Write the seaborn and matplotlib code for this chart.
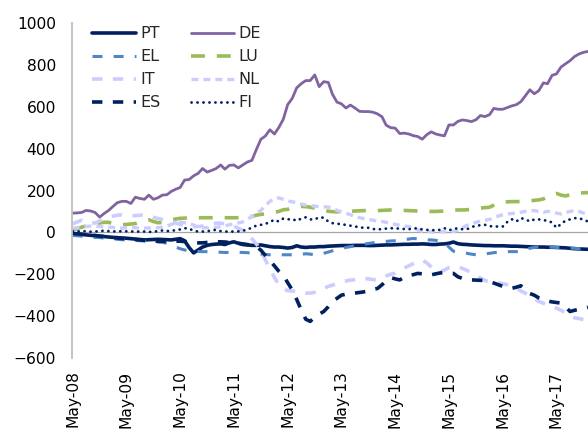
import matplotlib
matplotlib.use("Agg")
import matplotlib.pyplot as plt
import pandas as pd
import seaborn as sns

# Monthly TARGET2 balances (EUR bn), May-08 .. Dec-17
months = pd.date_range("2008-05-01", periods=116, freq="MS")

PT = [-5, -8, -10, -12, -14, -16, -18, -20, -22, -24, -25, -27,
      -28, -30, -32, -34, -36, -35, -34, -33, -34, -35, -36, -33,
      -30, -40, -72, -98, -84, -70, -62, -58, -56, -55, -58, -50,
      -45, -52, -58, -60, -62, -62, -60, -64, -68, -70, -70, -72,
      -75, -72, -64, -70, -72, -70, -70, -68, -68, -66, -65, -64,
      -63, -63, -63, -62, -62, -62, -63, -63, -62, -61, -60, -60,
      -59, -58, -57, -57, -56, -56, -55, -56, -58, -58, -56, -55,
      -52, -46, -54, -57, -58, -60, -61, -62, -63, -63, -64, -64,
      -64, -65, -66, -66, -67, -68, -69, -70, -70, -70, -71, -71,
      -72, -73, -74, -76, -78, -79, -80, -81]

DE = [92, 93, 95, 105, 102, 95, 73, 90, 105, 125, 142, 148,
      148, 138, 168, 162, 158, 178, 158, 165, 178, 180, 195, 206,
      214, 250, 252, 270, 282, 305, 288, 296, 305, 322, 302, 320,
      322, 308, 322, 336, 344, 395, 445, 460, 490, 470, 500, 540,
      610, 640, 690, 710, 725, 725, 752, 696, 720, 716, 660, 622,
      614, 594, 608, 594, 578, 577, 577, 574, 566, 552, 512, 500,
      498, 472, 474, 470, 462, 458, 445, 466, 480, 470, 465, 461,
      513, 513, 530, 537, 534, 529, 538, 558, 553, 562, 592, 588,
      588, 596, 604, 610, 624, 652, 681, 662, 677, 714, 710, 750,
      757, 790, 805, 820, 840, 852, 860, 864]

EL = [-15, -16, -18, -20, -22, -24, -25, -27, -29, -31, -33, -35,
      -36, -37, -38, -40, -41, -42, -44, -46, -48, -52, -58, -70,
      -78, -84, -88, -90, -91, -92, -92, -93, -94, -95, -96, -96,
      -95, -95, -96, -97, -99, -101, -104, -106, -107, -107, -106, -107,
      -107, -107, -107, -105, -102, -104, -107, -106, -100, -94, -88, -82,
      -78, -72, -68, -64, -60, -56, -53, -50, -48, -45, -43, -41,
      -40, -38, -35, -32, -29, -31, -34, -36, -36, -38, -42, -48,
      -70, -90, -95, -98, -100, -104, -107, -105, -103, -100, -97, -95,
      -93, -92, -92, -92, -90, -82, -76, -72, -70, -69, -70, -71,
      -72, -72, -73, -75, -76, -78, -80, -80]

LU = [12, 18, 25, 30, 35, 40, 45, 48, 48, 42, 38, 36,
      38, 40, 42, 50, 58, 60, 52, 46, 48, 52, 60, 64,
      67, 68, 70, 70, 70, 70, 70, 70, 70, 70, 70, 70,
      70, 70, 71, 73, 76, 82, 86, 88, 92, 96, 100, 108,
      110, 118, 123, 124, 123, 120, 116, 110, 105, 101, 99, 98,
      99, 100, 101, 102, 103, 104, 104, 104, 104, 105, 106, 107,
      107, 106, 105, 104, 103, 102, 101, 100, 100, 100, 101, 102,
      104, 106, 107, 107, 108, 110, 113, 116, 118, 120, 130, 140,
      144, 146, 147, 147, 147, 148, 150, 153, 155, 160, 170, 182,
      186, 178, 174, 180, 186, 188, 189, 190]

IT = [40, 50, 58, 50, 44, 45, 55, 65, 72, 78, 82, 84,
      82, 80, 80, 82, 84, 80, 72, 66, 62, 60, 54, 45,
      38, 34, 30, 28, 28, 30, 35, 40, 44, 44, 40, 36,
      30, 20, 10, -10, -30, -55, -85, -130, -175, -215, -250, -270,
      -278, -280, -282, -286, -290, -290, -286, -280, -268, -258, -252, -245,
      -238, -232, -228, -226, -222, -220, -222, -226, -225, -218, -208, -200,
      -195, -180, -170, -160, -150, -140, -132, -145, -165, -185, -190, -180,
      -168, -164, -165, -172, -182, -192, -205, -218, -230, -236, -240, -242,
      -245, -250, -258, -265, -280, -290, -305, -318, -330, -338, -346, -354,
      -362, -372, -385, -396, -408, -412, -416, -418]

NL = [20, 22, 25, 28, 30, 30, 28, 26, 25, 24, 22, 20,
      22, 24, 22, 20, 20, 21, 22, 22, 25, 30, 38, 45,
      48, 46, 42, 35, 22, 22, 22, 22, 24, 28, 32, 36,
      40, 45, 50, 62, 76, 88, 105, 128, 148, 160, 165, 158,
      150, 146, 142, 135, 130, 128, 125, 123, 122, 121, 115, 105,
      98, 92, 84, 76, 70, 66, 62, 58, 54, 52, 48, 44,
      38, 34, 30, 28, 24, 12, 5, 4, 2, 2, 3, 2,
      2, 4, 10, 22, 34, 40, 48, 54, 58, 62, 70, 78,
      84, 88, 90, 92, 96, 100, 104, 104, 100, 96, 100, 100,
      92, 88, 94, 100, 104, 100, 92, 86]

ES = [-5, -7, -9, -11, -13, -15, -18, -20, -23, -25, -27, -29,
      -30, -32, -34, -36, -38, -40, -41, -42, -42, -43, -43, -42,
      -42, -44, -46, -48, -50, -50, -48, -46, -45, -45, -46, -48,
      -50, -52, -55, -58, -62, -68, -85, -110, -135, -160, -185, -205,
      -240, -275, -320, -370, -415, -425, -405, -390, -378, -355, -330, -315,
      -300, -295, -292, -290, -287, -284, -280, -272, -268, -250, -232, -216,
      -222, -227, -215, -205, -202, -196, -198, -202, -203, -198, -194, -192,
      -194, -196, -212, -220, -225, -227, -228, -229, -230, -236, -242, -250,
      -258, -262, -267, -262, -255, -272, -292, -300, -313, -320, -328, -332,
      -335, -338, -355, -378, -372, -367, -362, -358]

FI = [5, 4, 6, 5, 3, 4, 6, 8, 6, 5, 4, 6,
      5, 4, 5, 3, 4, 2, 3, 6, 9, 6, 8, 10,
      14, 20, 18, 8, 4, 4, 5, 10, 12, 6, 4, 4,
      4, 5, 8, 12, 24, 32, 36, 40, 50, 60, 52, 66,
      62, 64, 55, 66, 72, 62, 62, 72, 70, 52, 44, 42,
      38, 36, 32, 28, 25, 21, 22, 16, 15, 15, 18, 20,
      19, 18, 16, 15, 18, 20, 14, 12, 10, 11, 12, 20,
      10, 16, 20, 15, 15, 25, 32, 34, 36, 30, 28, 28,
      28, 50, 63, 52, 68, 63, 52, 62, 62, 58, 56, 47,
      22, 40, 56, 62, 68, 68, 60, 52]

year_ticks = pd.date_range("2008-05-01", "2017-05-01", freq="12MS")
tick_labels = [d.strftime("%b-%y") for d in year_ticks]

NAVY = "#002060"
LAV = "#CCCCFF"

# name, values, colour, width (pt), dash pattern (pt) or None for solid, cap style
series = [
    ("PT", PT, NAVY, 2.6, None, "butt"),
    ("DE", DE, "#8064A2", 2.0, None, "butt"),
    ("EL", EL, "#4F86C6", 2.2, (7.2, 8.0), "butt"),
    ("LU", LU, "#9BBB59", 2.6, (10.0, 8.6), "butt"),
    ("IT", IT, LAV, 2.6, (7.5, 7.5), "butt"),
    ("NL", NL, LAV, 2.4, (5.0, 3.6), "butt"),
    ("ES", ES, NAVY, 2.6, (7.5, 7.5), "butt"),
    ("FI", FI, NAVY, 2.0, (0.1, 4.2), "round"),
]

sns.set_theme(style="white")
plt.rcParams["font.family"] = ["DejaVu Sans"]
plt.rcParams["lines.scale_dashes"] = False

fig = plt.figure(figsize=(5.88, 4.32), dpi=100)
ax = fig.add_axes([72 / 588, 1 - 358 / 432, 1 - 72 / 588, (358 - 23) / 432])

ax.axhline(0, color="#A6A6A6", lw=0.9, zorder=1)

lines = {}
for name, vals, col, lw, dash, cap in series:
    sns.lineplot(x=months, y=vals, ax=ax, color=col, linewidth=lw, label=name)
    ln = ax.lines[-1]
    if dash is not None:
        ln.set_dashes(dash)
        ln.set_dash_capstyle(cap)
    lines[name] = ln

ax.set_ylim(-600, 1000)
ax.set_xlim(months[0] - pd.Timedelta(days=4), months[-1])
ax.set_yticks(range(-600, 1001, 200))
ax.set_xticks(year_ticks)
ax.set_xticklabels(tick_labels, rotation=90)
ax.set_xlabel("")
ax.set_ylabel("")
ax.tick_params(axis="y", length=0, pad=11.5, labelsize=11.2, labelcolor="black")
ax.tick_params(axis="x", length=0, pad=9, labelsize=11.2, labelcolor="black")

for side in ("top", "right", "bottom"):
    ax.spines[side].set_visible(False)
ax.spines["left"].set_color("#BFBFBF")
ax.spines["left"].set_linewidth(1.3)

order = ["PT", "EL", "IT", "ES", "DE", "LU", "NL", "FI"]
ax.legend([lines[n] for n in order], order, ncol=2, loc="upper left",
          bbox_to_anchor=(92 / 588, 1 - 26.5 / 432), bbox_transform=fig.transFigure,
          frameon=False, fontsize=11.5, handlelength=2.75, handletextpad=0.25,
          columnspacing=1.9, labelspacing=0.5, borderpad=0, borderaxespad=0)

fig.savefig("out.png", dpi=100)
